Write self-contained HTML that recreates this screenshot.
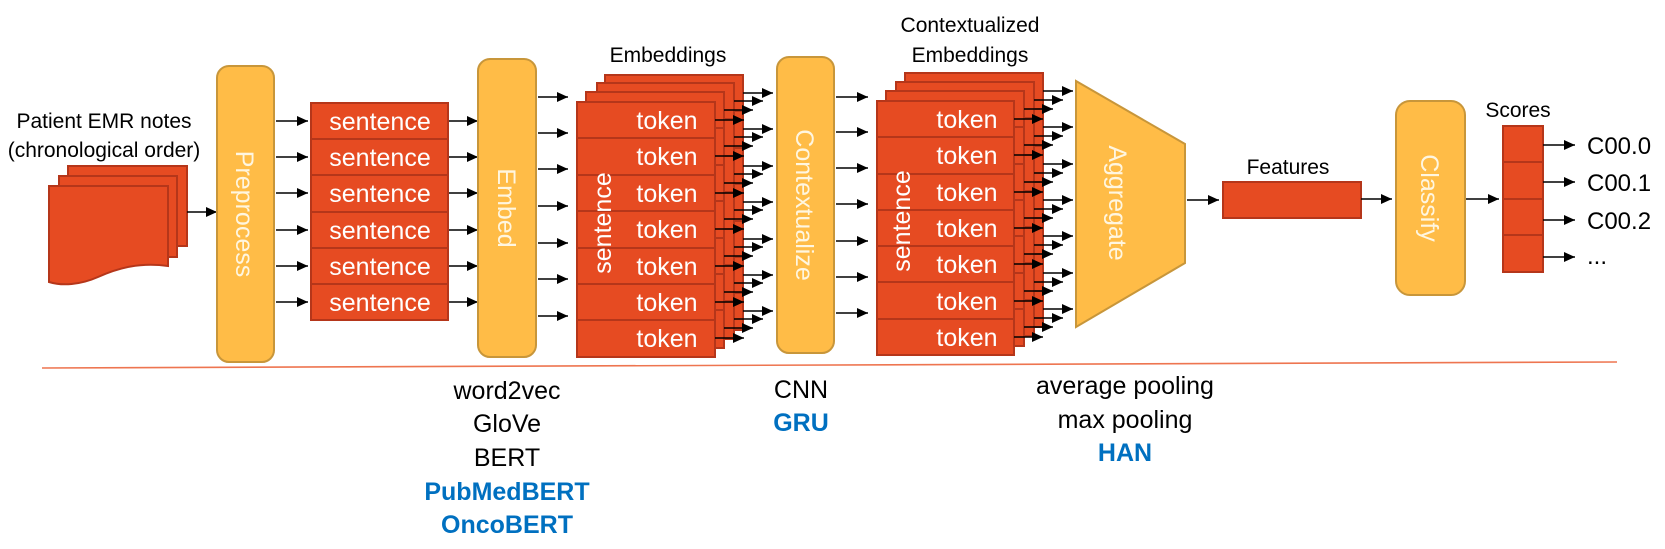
<!DOCTYPE html>
<html><head><meta charset="utf-8"><style>
html,body{margin:0;padding:0;background:#fff;}
svg{display:block;}
text{font-family:"Liberation Sans",sans-serif;}
.r{fill:#E64B22;stroke:#B5361A;stroke-width:2;}
.y{fill:#FFBC47;stroke:#C8963A;stroke-width:2;}
.ln{stroke:#B5361A;stroke-width:2;}
.a{stroke:#000;stroke-width:1.5;marker-end:url(#ah);}
.w{fill:#fff;font-size:25px;}
.vl{fill:#FFF6E0;font-size:25px;}
.k{fill:#000;font-size:21px;}
.b{fill:#000;font-size:25px;}
.bl{fill:#0070C0;font-size:25px;font-weight:bold;}
</style></head><body>
<svg width="1665" height="549" viewBox="0 0 1665 549" xmlns="http://www.w3.org/2000/svg">
<defs><marker id="ah" markerUnits="userSpaceOnUse" markerWidth="12" markerHeight="10" refX="11" refY="5" orient="auto"><path d="M0,0 L11,5 L0,10 z" fill="#000"/></marker></defs>

<!-- Patient notes -->
<text class="k" x="104" y="128" text-anchor="middle">Patient EMR notes</text>
<text class="k" x="104" y="157" text-anchor="middle">(chronological order)</text>
<rect class="r" x="68" y="166" width="119" height="80"/>
<rect class="r" x="59" y="176" width="118" height="81"/>
<path class="r" d="M49,186 H168 V266 C140,262 118,268 98,277 C80,285 62,286 49,282 Z"/>
<line class="a" x1="187" y1="212" x2="217" y2="212"/>

<!-- Preprocess -->
<rect class="y" x="217" y="66" width="57" height="296" rx="12"/>
<text class="vl" transform="translate(245,214) rotate(90)" text-anchor="middle" dy="9">Preprocess</text>

<!-- sentences -->
<g>
<line class="a" x1="276" y1="121" x2="308" y2="121"/>
<line class="a" x1="276" y1="157" x2="308" y2="157"/>
<line class="a" x1="276" y1="193" x2="308" y2="193"/>
<line class="a" x1="276" y1="230" x2="308" y2="230"/>
<line class="a" x1="276" y1="266" x2="308" y2="266"/>
<line class="a" x1="276" y1="302" x2="308" y2="302"/>
<rect class="r" x="311" y="103" width="137" height="217"/>
<line class="ln" x1="311" y1="139" x2="448" y2="139"/>
<line class="ln" x1="311" y1="175" x2="448" y2="175"/>
<line class="ln" x1="311" y1="212" x2="448" y2="212"/>
<line class="ln" x1="311" y1="248" x2="448" y2="248"/>
<line class="ln" x1="311" y1="284" x2="448" y2="284"/>
<text class="w" x="380" y="130" text-anchor="middle">sentence</text>
<text class="w" x="380" y="166" text-anchor="middle">sentence</text>
<text class="w" x="380" y="202" text-anchor="middle">sentence</text>
<text class="w" x="380" y="239" text-anchor="middle">sentence</text>
<text class="w" x="380" y="275" text-anchor="middle">sentence</text>
<text class="w" x="380" y="311" text-anchor="middle">sentence</text>
<line class="a" x1="449" y1="121" x2="478" y2="121"/>
<line class="a" x1="449" y1="157" x2="478" y2="157"/>
<line class="a" x1="449" y1="193" x2="478" y2="193"/>
<line class="a" x1="449" y1="230" x2="478" y2="230"/>
<line class="a" x1="449" y1="266" x2="478" y2="266"/>
<line class="a" x1="449" y1="302" x2="478" y2="302"/>
</g>

<!-- Embed -->
<rect class="y" x="478" y="59" width="58" height="298" rx="12"/>
<text class="vl" transform="translate(507,208) rotate(90)" text-anchor="middle" dy="9">Embed</text>
<line class="a" x1="538" y1="97" x2="568" y2="97"/>
<line class="a" x1="538" y1="133" x2="568" y2="133"/>
<line class="a" x1="538" y1="169" x2="568" y2="169"/>
<line class="a" x1="538" y1="206" x2="568" y2="206"/>
<line class="a" x1="538" y1="243" x2="568" y2="243"/>
<line class="a" x1="538" y1="279" x2="568" y2="279"/>
<line class="a" x1="538" y1="316" x2="568" y2="316"/>

<!-- Embeddings stack -->
<text class="k" x="668" y="62" text-anchor="middle">Embeddings</text>
<g>
<rect class="r" x="605" y="75" width="138" height="255"/>
<line class="ln" x1="605" y1="111" x2="743" y2="111"/><line class="ln" x1="605" y1="148" x2="743" y2="148"/><line class="ln" x1="605" y1="184" x2="743" y2="184"/><line class="ln" x1="605" y1="221" x2="743" y2="221"/><line class="ln" x1="605" y1="257" x2="743" y2="257"/><line class="ln" x1="605" y1="293" x2="743" y2="293"/>
<line class="a" x1="743" y1="93" x2="773" y2="93"/><line class="a" x1="743" y1="129" x2="773" y2="129"/><line class="a" x1="743" y1="166" x2="773" y2="166"/><line class="a" x1="743" y1="202" x2="773" y2="202"/><line class="a" x1="743" y1="239" x2="773" y2="239"/><line class="a" x1="743" y1="275" x2="773" y2="275"/><line class="a" x1="743" y1="311" x2="773" y2="311"/>
<rect class="r" x="597" y="83" width="137" height="256"/>
<line class="ln" x1="597" y1="119" x2="734" y2="119"/><line class="ln" x1="597" y1="156" x2="734" y2="156"/><line class="ln" x1="597" y1="192" x2="734" y2="192"/><line class="ln" x1="597" y1="229" x2="734" y2="229"/><line class="ln" x1="597" y1="265" x2="734" y2="265"/><line class="ln" x1="597" y1="301" x2="734" y2="301"/>
<line class="a" x1="734" y1="101" x2="763" y2="101"/><line class="a" x1="734" y1="137" x2="763" y2="137"/><line class="a" x1="734" y1="174" x2="763" y2="174"/><line class="a" x1="734" y1="210" x2="763" y2="210"/><line class="a" x1="734" y1="247" x2="763" y2="247"/><line class="a" x1="734" y1="283" x2="763" y2="283"/><line class="a" x1="734" y1="319" x2="763" y2="319"/>
<rect class="r" x="586" y="92" width="138" height="256"/>
<line class="ln" x1="586" y1="128" x2="724" y2="128"/><line class="ln" x1="586" y1="165" x2="724" y2="165"/><line class="ln" x1="586" y1="201" x2="724" y2="201"/><line class="ln" x1="586" y1="238" x2="724" y2="238"/><line class="ln" x1="586" y1="274" x2="724" y2="274"/><line class="ln" x1="586" y1="310" x2="724" y2="310"/>
<line class="a" x1="724" y1="110" x2="753" y2="110"/><line class="a" x1="724" y1="146" x2="753" y2="146"/><line class="a" x1="724" y1="183" x2="753" y2="183"/><line class="a" x1="724" y1="219" x2="753" y2="219"/><line class="a" x1="724" y1="256" x2="753" y2="256"/><line class="a" x1="724" y1="292" x2="753" y2="292"/><line class="a" x1="724" y1="328" x2="753" y2="328"/>
<rect class="r" x="577" y="102" width="138" height="255"/>
<line class="ln" x1="577" y1="138" x2="715" y2="138"/><line class="ln" x1="577" y1="175" x2="715" y2="175"/><line class="ln" x1="577" y1="211" x2="715" y2="211"/><line class="ln" x1="577" y1="248" x2="715" y2="248"/><line class="ln" x1="577" y1="284" x2="715" y2="284"/><line class="ln" x1="577" y1="320" x2="715" y2="320"/>
<text class="w" x="667" y="129" text-anchor="middle">token</text>
<text class="w" x="667" y="165" text-anchor="middle">token</text>
<text class="w" x="667" y="202" text-anchor="middle">token</text>
<text class="w" x="667" y="238" text-anchor="middle">token</text>
<text class="w" x="667" y="275" text-anchor="middle">token</text>
<text class="w" x="667" y="311" text-anchor="middle">token</text>
<text class="w" x="667" y="347" text-anchor="middle">token</text>
<text class="w" transform="translate(602,223) rotate(-90)" text-anchor="middle" dy="9">sentence</text>
<line class="a" x1="715" y1="120" x2="744" y2="120"/><line class="a" x1="715" y1="156" x2="744" y2="156"/><line class="a" x1="715" y1="193" x2="744" y2="193"/><line class="a" x1="715" y1="229" x2="744" y2="229"/><line class="a" x1="715" y1="266" x2="744" y2="266"/><line class="a" x1="715" y1="302" x2="744" y2="302"/><line class="a" x1="715" y1="338" x2="744" y2="338"/>
</g>

<!-- Contextualize -->
<rect class="y" x="777" y="57" width="57" height="296" rx="12"/>
<text class="vl" transform="translate(805,205) rotate(90)" text-anchor="middle" dy="9">Contextualize</text>
<line class="a" x1="836" y1="97" x2="868" y2="97"/>
<line class="a" x1="836" y1="132" x2="868" y2="132"/>
<line class="a" x1="836" y1="168" x2="868" y2="168"/>
<line class="a" x1="836" y1="204" x2="868" y2="204"/>
<line class="a" x1="836" y1="241" x2="868" y2="241"/>
<line class="a" x1="836" y1="277" x2="868" y2="277"/>
<line class="a" x1="836" y1="313" x2="868" y2="313"/>

<!-- Contextualized Embeddings stack -->
<text class="k" x="970" y="32" text-anchor="middle">Contextualized</text>
<text class="k" x="970" y="62" text-anchor="middle">Embeddings</text>
<g>
<rect class="r" x="905" y="73" width="138" height="254"/>
<line class="ln" x1="905" y1="109" x2="1043" y2="109"/><line class="ln" x1="905" y1="146" x2="1043" y2="146"/><line class="ln" x1="905" y1="182" x2="1043" y2="182"/><line class="ln" x1="905" y1="218" x2="1043" y2="218"/><line class="ln" x1="905" y1="254" x2="1043" y2="254"/><line class="ln" x1="905" y1="291" x2="1043" y2="291"/>
<line class="a" x1="1043" y1="91" x2="1073" y2="91"/><line class="a" x1="1043" y1="127" x2="1073" y2="127"/><line class="a" x1="1043" y1="164" x2="1073" y2="164"/><line class="a" x1="1043" y1="200" x2="1073" y2="200"/><line class="a" x1="1043" y1="236" x2="1073" y2="236"/><line class="a" x1="1043" y1="273" x2="1073" y2="273"/><line class="a" x1="1043" y1="309" x2="1073" y2="309"/>
<rect class="r" x="896" y="82" width="138" height="254"/>
<line class="ln" x1="896" y1="118" x2="1034" y2="118"/><line class="ln" x1="896" y1="155" x2="1034" y2="155"/><line class="ln" x1="896" y1="191" x2="1034" y2="191"/><line class="ln" x1="896" y1="227" x2="1034" y2="227"/><line class="ln" x1="896" y1="263" x2="1034" y2="263"/><line class="ln" x1="896" y1="300" x2="1034" y2="300"/>
<line class="a" x1="1034" y1="100" x2="1063" y2="100"/><line class="a" x1="1034" y1="136" x2="1063" y2="136"/><line class="a" x1="1034" y1="173" x2="1063" y2="173"/><line class="a" x1="1034" y1="209" x2="1063" y2="209"/><line class="a" x1="1034" y1="245" x2="1063" y2="245"/><line class="a" x1="1034" y1="282" x2="1063" y2="282"/><line class="a" x1="1034" y1="318" x2="1063" y2="318"/>
<rect class="r" x="886" y="91" width="138" height="255"/>
<line class="ln" x1="886" y1="127" x2="1024" y2="127"/><line class="ln" x1="886" y1="164" x2="1024" y2="164"/><line class="ln" x1="886" y1="200" x2="1024" y2="200"/><line class="ln" x1="886" y1="236" x2="1024" y2="236"/><line class="ln" x1="886" y1="273" x2="1024" y2="273"/><line class="ln" x1="886" y1="309" x2="1024" y2="309"/>
<line class="a" x1="1024" y1="109" x2="1053" y2="109"/><line class="a" x1="1024" y1="145" x2="1053" y2="145"/><line class="a" x1="1024" y1="182" x2="1053" y2="182"/><line class="a" x1="1024" y1="218" x2="1053" y2="218"/><line class="a" x1="1024" y1="254" x2="1053" y2="254"/><line class="a" x1="1024" y1="291" x2="1053" y2="291"/><line class="a" x1="1024" y1="327" x2="1053" y2="327"/>
<rect class="r" x="877" y="101" width="137" height="254"/>
<line class="ln" x1="877" y1="137" x2="1014" y2="137"/><line class="ln" x1="877" y1="174" x2="1014" y2="174"/><line class="ln" x1="877" y1="210" x2="1014" y2="210"/><line class="ln" x1="877" y1="246" x2="1014" y2="246"/><line class="ln" x1="877" y1="282" x2="1014" y2="282"/><line class="ln" x1="877" y1="319" x2="1014" y2="319"/>
<text class="w" x="967" y="128" text-anchor="middle">token</text>
<text class="w" x="967" y="164" text-anchor="middle">token</text>
<text class="w" x="967" y="201" text-anchor="middle">token</text>
<text class="w" x="967" y="237" text-anchor="middle">token</text>
<text class="w" x="967" y="273" text-anchor="middle">token</text>
<text class="w" x="967" y="310" text-anchor="middle">token</text>
<text class="w" x="967" y="346" text-anchor="middle">token</text>
<text class="w" transform="translate(901,221) rotate(-90)" text-anchor="middle" dy="9">sentence</text>
<line class="a" x1="1014" y1="119" x2="1043" y2="119"/><line class="a" x1="1014" y1="155" x2="1043" y2="155"/><line class="a" x1="1014" y1="192" x2="1043" y2="192"/><line class="a" x1="1014" y1="228" x2="1043" y2="228"/><line class="a" x1="1014" y1="264" x2="1043" y2="264"/><line class="a" x1="1014" y1="301" x2="1043" y2="301"/><line class="a" x1="1014" y1="337" x2="1043" y2="337"/>
</g>

<!-- Aggregate -->
<polygon class="y" points="1076,81 1185,144 1185,263 1076,327"/>
<text class="vl" transform="translate(1118,203) rotate(90)" text-anchor="middle" dy="9">Aggregate</text>
<line class="a" x1="1187" y1="200" x2="1219" y2="200"/>

<!-- Features -->
<text class="k" x="1288" y="174" text-anchor="middle">Features</text>
<rect class="r" x="1223" y="182" width="138" height="36"/>
<line class="a" x1="1361" y1="199" x2="1392" y2="199"/>

<!-- Classify -->
<rect class="y" x="1396" y="101" width="69" height="194" rx="14"/>
<text class="vl" transform="translate(1430,198) rotate(90)" text-anchor="middle" dy="9">Classify</text>
<line class="a" x1="1466" y1="199" x2="1499" y2="199"/>

<!-- Scores -->
<text class="k" x="1518" y="117" text-anchor="middle">Scores</text>
<rect class="r" x="1503" y="126" width="40" height="146"/>
<line class="ln" x1="1503" y1="162" x2="1543" y2="162"/>
<line class="ln" x1="1503" y1="199" x2="1543" y2="199"/>
<line class="ln" x1="1503" y1="235" x2="1543" y2="235"/>
<line class="a" x1="1543" y1="145" x2="1575" y2="145"/>
<line class="a" x1="1543" y1="182" x2="1575" y2="182"/>
<line class="a" x1="1543" y1="220" x2="1575" y2="220"/>
<line class="a" x1="1543" y1="257" x2="1575" y2="257"/>
<text x="1587" y="154" style="font-size:24px">C00.0</text>
<text x="1587" y="191" style="font-size:24px">C00.1</text>
<text x="1587" y="229" style="font-size:24px">C00.2</text>
<text x="1587" y="264" style="font-size:24px">...</text>

<!-- separator -->
<line x1="42" y1="368" x2="1617" y2="362" stroke="#EE7550" stroke-width="1.6"/>

<!-- bottom texts -->
<text class="b" x="507" y="399" text-anchor="middle">word2vec</text>
<text class="b" x="507" y="432" text-anchor="middle">GloVe</text>
<text class="b" x="507" y="466" text-anchor="middle">BERT</text>
<text class="bl" x="507" y="500" text-anchor="middle">PubMedBERT</text>
<text class="bl" x="507" y="533" text-anchor="middle">OncoBERT</text>
<text class="b" x="801" y="398" text-anchor="middle">CNN</text>
<text class="bl" x="801" y="431" text-anchor="middle">GRU</text>
<text class="b" x="1125" y="394" text-anchor="middle">average pooling</text>
<text class="b" x="1125" y="428" text-anchor="middle">max pooling</text>
<text class="bl" x="1125" y="461" text-anchor="middle">HAN</text>
</svg>
</body></html>
